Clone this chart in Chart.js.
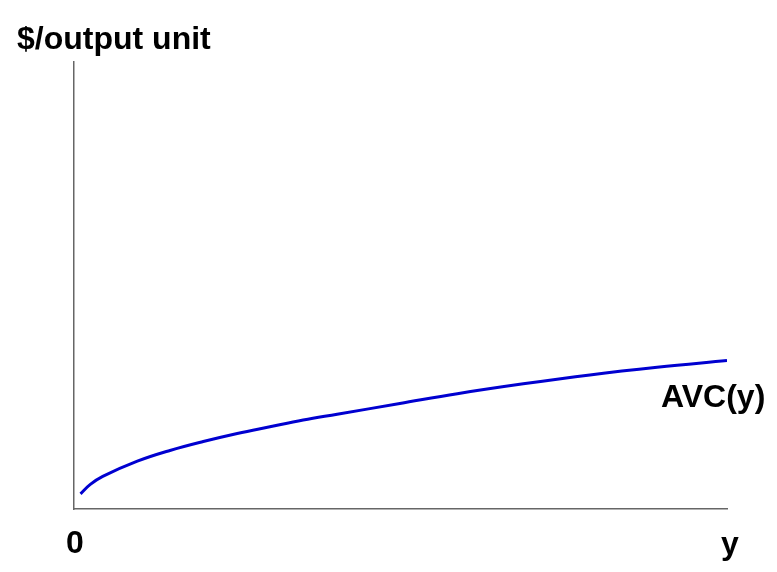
<!DOCTYPE html>
<html>
<head>
<meta charset="utf-8">
<script src="https://cdn.jsdelivr.net/npm/chart.js@4.4.0/dist/chart.umd.min.js"></script>
<style>
  body { margin: 0; background: #fff; }
  #wrap { width: 777px; height: 572px; }
</style>
</head>
<body>
<div id="wrap"><canvas id="avcChart" width="777" height="572"></canvas></div>
<script>
// output level y (x axis) and average variable cost (y axis)
const outputLevels = [1, 2.5, 4.4, 9.7, 14.7, 19.8, 25, 30, 35.1, 40.3, 49.9, 58.7, 68.8, 79, 89.3, 100];
const avcValues = [3.4, 5.5, 7.3, 10.7, 13.1, 15.1, 16.9, 18.4, 19.9, 21.2, 23.6, 25.8, 28, 30, 31.7, 33.2];
const curveLabel = "AVC(y)";
const yAxisLabel = "$/output unit";
const xAxisLabel = "y";
const originLabel = "0";

const labelFont = "bold 32px 'Liberation Sans', Arial, sans-serif";

// draw the axis labels as text next to the plot
const labelPlugin = {
  id: "labels",
  afterDraw(chart) {
    const ctx = chart.ctx;
    const area = chart.chartArea;
    ctx.save();
    ctx.fillStyle = "#000";
    ctx.font = labelFont;
    ctx.textBaseline = "alphabetic";
    ctx.textAlign = "left";
    ctx.fillText(yAxisLabel, area.left - 57, area.top - 13);
    ctx.fillText(originLabel, area.left - 8, area.bottom + 44);
    ctx.fillText(xAxisLabel, area.right - 6, area.bottom + 45);
    ctx.fillText(curveLabel, area.right - 66, area.bottom - 102);
    ctx.restore();
  },
};

const ctx = document.getElementById("avcChart").getContext("2d");
const avcChart = new Chart(ctx, {
  type: "scatter",
  data: {
    datasets: [
      {
        label: curveLabel,
        data: outputLevels.map((x, i) => ({ x: x, y: avcValues[i] })),
        showLine: true,
        borderColor: "#0000d0",
        borderWidth: 3,
        pointRadius: 0,
        tension: 0.4,
        fill: false,
      },
    ],
  },
  options: {
    responsive: false,
    animation: false,
    layout: {
      padding: { left: 66, right: 50, top: 62, bottom: 55 },
    },
    scales: {
      x: {
        type: "linear",
        min: 0,
        max: 100,
        grid: { display: false },
        border: { display: true, color: "#666", width: 1.5 },
        ticks: { display: false },
      },
      y: {
        type: "linear",
        min: 0,
        max: 100,
        grid: { display: false },
        border: { display: true, color: "#666", width: 1.5 },
        ticks: { display: false },
      },
    },
    plugins: {
      legend: { display: false },
      tooltip: { enabled: false },
    },
  },
  plugins: [labelPlugin],
});
</script>
</body>
</html>
